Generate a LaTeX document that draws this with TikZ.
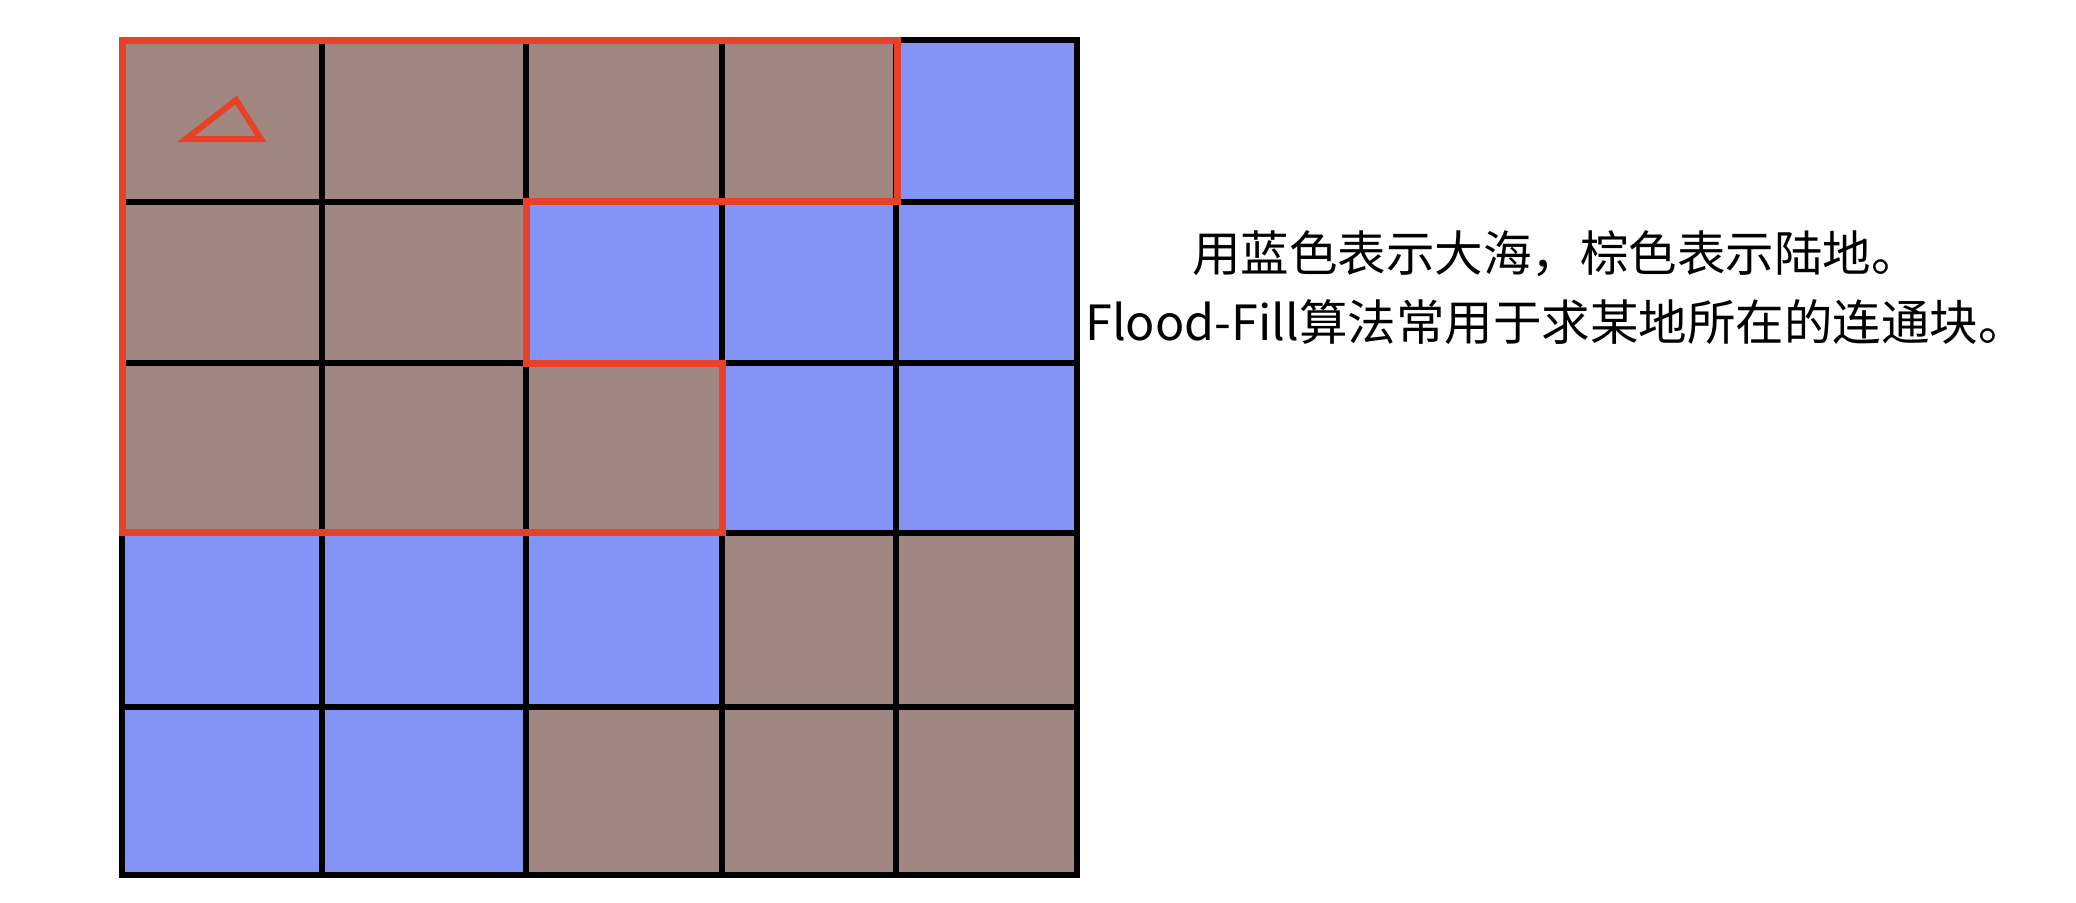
\documentclass[tikz,border=0pt]{standalone}
\usepackage{fontspec}
\setmainfont{Noto Sans CJK SC}
\usetikzlibrary{positioning}
\definecolor{Land}{HTML}{A18781}
\definecolor{Sea}{HTML}{8494F6}
\definecolor{Mark}{HTML}{E84128}
\begin{document}
\begin{tikzpicture}[x=1pt,y=-1pt,
    gridline/.style={line width=6pt,black,line cap=rect},
    region/.style={line width=7pt,Mark,line join=miter},
    caption/.style={font=\fontsize{48.5}{60}\selectfont,inner sep=0pt}]
  \useasboundingbox (0,0) rectangle (2076,902);
  \def\colx{{122,322,526,722,896,1077}}
  \def\rowy{{40,201.5,363,532.5,707,875}}
  % cells, one row per entry
  \foreach \r/\cells in {0/{Land,Land,Land,Land,Sea},1/{Land,Land,Sea,Sea,Sea},
      2/{Land,Land,Land,Sea,Sea},3/{Sea,Sea,Sea,Land,Land},4/{Sea,Sea,Land,Land,Land}}{
    \foreach \k [count=\c from 0] in \cells{
      \pgfmathsetmacro\xa{\colx[\c]}\pgfmathsetmacro\xb{\colx[\c+1]}
      \pgfmathsetmacro\ya{\rowy[\r]}\pgfmathsetmacro\yb{\rowy[\r+1]}
      \fill[\k] (\xa,\ya) rectangle (\xb,\yb);
    }
  }
  \foreach \x in {122,322,526,722,896,1077}\draw[gridline] (\x,40)--(\x,875);
  \foreach \y in {40,201.5,363,532.5,707,875}\draw[gridline] (122,\y)--(1077,\y);
  % the connected land block
  \draw[region] (122,40) -| (897,201.5) -| (526,363) -| (722,532.5) -- (122,532.5) -- cycle;
  \draw[region,line width=6pt] (186,139) -- (236,100) -- (261,139) -- cycle;
  \node[caption] (legend) at (1556,254) {用蓝色表示大海，棕色表示陆地。};
  \node[caption,below=22pt of legend] (note) {Flood-Fill算法常用于求某地所在的连通块。};
\end{tikzpicture}
\end{document}
